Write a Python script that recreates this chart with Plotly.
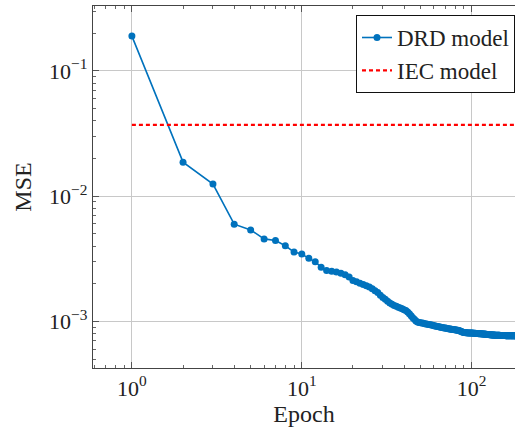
import plotly.graph_objects as go

mse = [
    0.190, 0.0187, 0.0125, 0.00598, 0.00538, 0.00456, 0.00443, 0.00402, 0.00358, 0.00345,
    0.00319, 0.00299, 0.00271, 0.00255, 0.00251, 0.00248, 0.00243, 0.00236, 0.00226, 0.00212,
    0.00207, 0.00202, 0.00197, 0.00193, 0.00188, 0.00182, 0.00176, 0.00170, 0.00162, 0.00155,
    0.00150, 0.00145, 0.00140, 0.00137, 0.00134, 0.00132, 0.00130, 0.00128, 0.00126, 0.00124,
    0.00122, 0.00119, 0.00115, 0.00111, 0.00107, 0.00104, 0.00101, 0.00099, 0.00098, 0.000975,
    0.00097, 0.000965, 0.00096, 0.000955, 0.00095, 0.000945, 0.00094, 0.000935, 0.00093, 0.000925,
    0.00092, 0.000915, 0.00091, 0.000906, 0.000902, 0.000898, 0.000894, 0.00089, 0.000887, 0.000884,
    0.00088, 0.000877, 0.000874, 0.000871, 0.000868, 0.000865, 0.000862, 0.00086, 0.000858, 0.000856,
    0.000854, 0.000852, 0.00085, 0.000847, 0.000842, 0.000836, 0.00083, 0.000824, 0.00082, 0.000816,
    0.000814, 0.000813, 0.000812, 0.000811, 0.00081, 0.00081, 0.000809, 0.000809, 0.000808, 0.000808,
    0.000807, 0.000806, 0.000805, 0.000804, 0.000803, 0.000802, 0.000801, 0.0008, 0.000799, 0.000798,
    0.000797, 0.000797, 0.000796, 0.000796, 0.000795, 0.000795, 0.000794, 0.000793, 0.000792, 0.000791,
    0.00079, 0.000789, 0.000788, 0.000787, 0.000786, 0.000785, 0.000784, 0.000783, 0.000782, 0.000781,
    0.00078, 0.00078, 0.000779, 0.000779, 0.000778, 0.000778, 0.000777, 0.000777, 0.000776, 0.000776,
    0.000775, 0.000775, 0.000775, 0.000774, 0.000774, 0.000774, 0.000773, 0.000773, 0.000773, 0.000772,
    0.000772, 0.000772, 0.000772, 0.000771, 0.000771, 0.000771, 0.000771, 0.000771, 0.00077, 0.00077,
    0.00077, 0.00077, 0.00077, 0.00077, 0.000769, 0.000769, 0.000769, 0.000769, 0.000769, 0.000769,
    0.000769, 0.000768, 0.000768, 0.000768, 0.000768, 0.000768, 0.000768, 0.000768, 0.000768, 0.000768,
]
epochs = list(range(1, len(mse) + 1))

iec_x = [1, 180]
iec_y = [0.0371, 0.0371]

x_tickvals = [1, 10, 100]
x_ticktext = ["10<sup>0</sup>", "10<sup>1</sup>", "10<sup>2</sup>"]
y_tickvals = [0.001, 0.01, 0.1]
y_ticktext = ["10<sup>−3</sup>", "10<sup>−2</sup>", "10<sup>−1</sup>"]

FONT = "Liberation Serif"
FS = 22
FS_TITLE = 24
BLUE = "#0072BD"

fig = go.Figure()
fig.add_trace(go.Scatter(
    x=epochs, y=mse, mode="lines+markers", name="DRD model",
    line=dict(color=BLUE, width=1.6),
    marker=dict(color=BLUE, size=7),
))
fig.add_trace(go.Scatter(
    x=iec_x, y=iec_y, mode="lines", name="IEC model",
    line=dict(color="#ff0000", width=2.2, dash="4px,3px"),
))

axis_common = dict(
    type="log",
    showline=True, linecolor="#444", linewidth=1.3,
    ticks="inside", ticklen=6, tickcolor="#555", tickwidth=1,
    showgrid=True, gridcolor="#c8c8c8", gridwidth=1,
    zeroline=False,
    tickfont=dict(family=FONT, size=FS, color="#222"),
    minor=dict(ticks="inside", ticklen=3, tickcolor="#666", tickwidth=1,
               showgrid=False, dtick="D1"),
)

fig.update_xaxes(
    **axis_common,
    range=[-0.229, 2.255],
    tickvals=x_tickvals, ticktext=x_ticktext,
    mirror="allticks",
    title=dict(text="Epoch", font=dict(family=FONT, size=FS_TITLE, color="#222"), standoff=0),
)
fig.update_yaxes(
    **axis_common,
    range=[-3.372, -0.481],
    tickvals=y_tickvals, ticktext=y_ticktext,
    mirror=False,
    title=dict(text="MSE", font=dict(family=FONT, size=FS_TITLE, color="#222"), standoff=10),
)

fig.update_layout(
    width=515, height=427,
    margin=dict(l=93, r=0, t=6, b=59),
    paper_bgcolor="white", plot_bgcolor="white",
    font=dict(family=FONT, size=FS),
    showlegend=True,
    legend=dict(
        x=1.0, xanchor="right", y=0.975, yanchor="top",
        bgcolor="white", bordercolor="#111", borderwidth=1,
        font=dict(family=FONT, size=23, color="#222"),
        tracegroupgap=0, itemwidth=30,
    ),
)

fig.write_html("out.html")
